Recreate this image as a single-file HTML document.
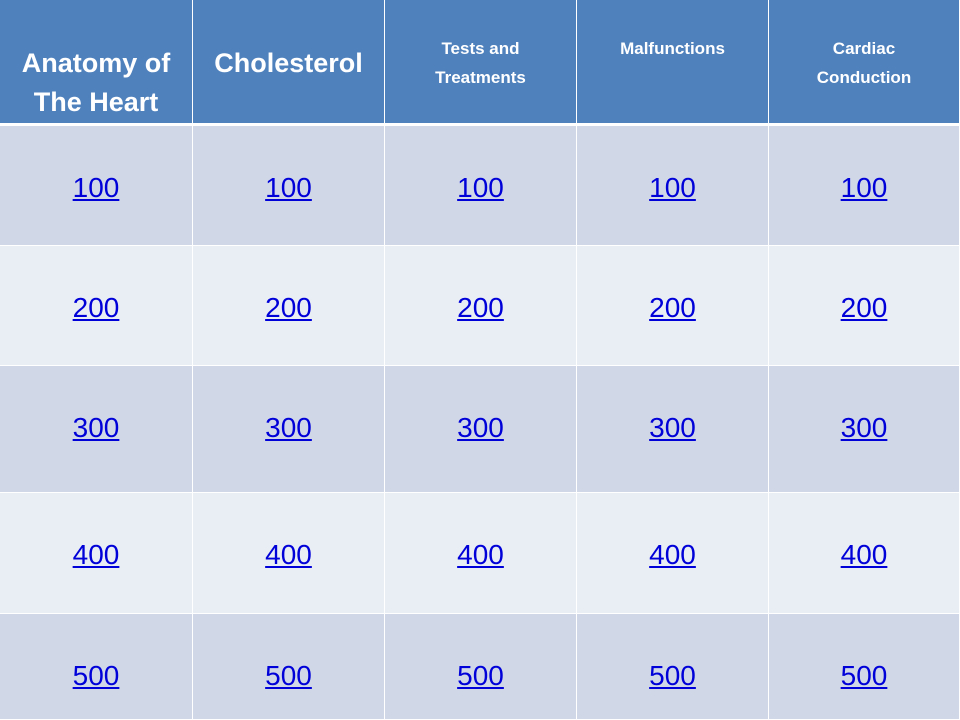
<!DOCTYPE html>
<html><head><meta charset="utf-8"><style>
body{margin:0;width:960px;height:720px;overflow:hidden;background:#fff;font-family:"Liberation Sans",sans-serif}
.c{position:absolute;display:flex;align-items:flex-start;justify-content:center;text-align:center;box-sizing:border-box}
.h{background:#4f81bd;color:#fff;font-weight:bold}
.big{font-size:27px;line-height:39px;padding-top:44px}
.sm{font-size:17px;line-height:29px;padding-top:34px}
.d{background:#d0d8e8}.l{background:#e9edf4}
.q{padding-top:45px}
a{color:#0000d8;font-size:28px;line-height:34px;text-decoration:underline}
</style></head><body>
<div id="board"></div>
<script>
const categories=["Anatomy of<br>The Heart","Cholesterol","Tests and<br>Treatments","Malfunctions","Cardiac<br>Conduction"];
const catSize=["big","big","sm","sm","sm"];
const values=[100,200,300,400,500];
const colX=[0,193,385,577,769,960];
const rowY=[126,246,366,493,614,720];
const board=document.getElementById('board');
categories.forEach((c,i)=>{
  const el=document.createElement('div');
  
  
  el.className='c h '+catSize[i];
  el.style.cssText=`left:${colX[i]}px;top:0;width:${colX[i+1]-colX[i]-1}px;height:123px;`;
  el.innerHTML=c;
  board.appendChild(el);
});
values.forEach((v,r)=>{
  categories.forEach((c,i)=>{
    const el=document.createElement('div');
    
    
    el.className='c q '+(r%2===0?'d':'l');
    el.style.cssText=`left:${colX[i]}px;top:${rowY[r]}px;width:${colX[i+1]-colX[i]-1}px;height:${rowY[r+1]-rowY[r]-1}px;`;
    const a=document.createElement('a');
    
    
    a.textContent=v;
    el.appendChild(a);
    board.appendChild(el);
  });
});
</script>
</body></html>
